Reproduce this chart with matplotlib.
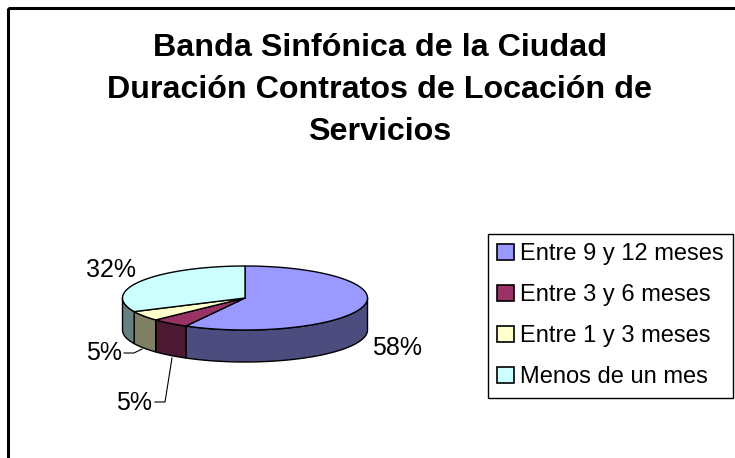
import numpy as np
import matplotlib.pyplot as plt
from matplotlib.patches import Polygon, Rectangle, Patch

plt.rcParams['font.family'] = ['Liberation Sans', 'DejaVu Sans']

# data
categories = ["Entre 9 y 12 meses", "Entre 3 y 6 meses", "Entre 1 y 3 meses", "Menos de un mes"]
values = [58, 5, 5, 32]
pct_labels = ["58%", "5%", "5%", "32%"]
top_colors = ["#9999FF", "#993366", "#FFFFCC", "#CCFFFF"]
side_colors = ["#4C4C7F", "#4C1933", "#7F7F66", "#667F7F"]

title = "Banda Sinfónica de la Ciudad\nDuración Contratos de Locación de\nServicios"

# geometry of the pie (pixels)
cx, cy = 245, 298
a, b = 122.5, 32
depth = 32

fig = plt.figure(figsize=(7.35, 4.58), dpi=100)
ax = fig.add_axes([0, 0, 1, 1])
ax.set_xlim(0, 735)
ax.set_ylim(458, 0)
ax.axis('off')

# chart border
ax.add_patch(Rectangle((8, 8), 740, 460, fill=False, edgecolor='black', lw=2.2))

def pt(t, dz=0):
    r = np.radians(t)
    return cx + a * np.cos(r), cy - b * np.sin(r) + dz

# angles: start at 12 o'clock, clockwise
total = float(sum(values))
starts = []
ang = 90.0
for v in values:
    end = ang - v / total * 360.0
    starts.append((end, ang))
    ang = end

# side walls (visible front half: 180..360)
for (t1, t2), sc in zip(starts, side_colors):
    t1n, t2n = t1 % 360, t2 % 360
    if t2n <= t1n:
        t2n += 360
    lo = max(t1n, 180)
    hi = min(t2n, 360)
    if hi <= lo:
        continue
    ts = np.linspace(lo, hi, 80)
    top = [pt(t) for t in ts]
    bot = [pt(t, depth) for t in ts[::-1]]
    ax.add_patch(Polygon(top + bot, closed=True, facecolor=sc, edgecolor='black', lw=1.0))

# top faces
for (t1, t2), tc in zip(starts, top_colors):
    ts = np.linspace(t1, t2, 200)
    verts = [(cx, cy)] + [pt(t) for t in ts]
    ax.add_patch(Polygon(verts, closed=True, facecolor=tc, edgecolor='black', lw=1.0,
                         joinstyle='round'))

# percentage labels
label_pos = [(397, 348), (134, 403), (104, 353), (111, 270)]
for txt, (lx, ly) in zip(pct_labels, label_pos):
    ax.text(lx, ly, txt, fontsize=18, ha='center', va='center')

# leader lines
ax.plot([155, 165, 172], [402, 402, 358], color='black', lw=0.8)
ax.plot([124, 134, 142], [353, 353, 349], color='black', lw=0.8)

ax.text(380, 90, title, fontsize=23.2, fontweight='bold', ha='center', va='center',
        linespacing=1.52)

handles = [Patch(facecolor=c, edgecolor='black', lw=1.2) for c in top_colors]
leg = ax.legend(handles, categories, loc='upper left',
                bbox_to_anchor=(488 / 735, 1 - 234 / 458), fontsize=17,
                frameon=True, fancybox=False, edgecolor='black', framealpha=1,
                handlelength=0.7, handleheight=0.7, handletextpad=0.25,
                labelspacing=0.8, borderpad=0.4, borderaxespad=0)
leg.get_frame().set_linewidth(1.0)

fig.savefig('out.png', dpi=100)
